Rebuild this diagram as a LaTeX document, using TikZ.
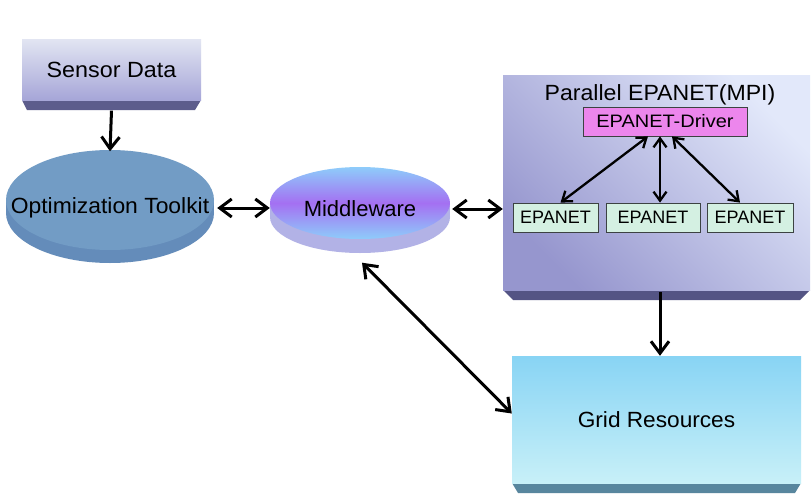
\documentclass[tikz,border=0pt]{standalone}
\usepackage{fontspec}
\setmainfont{Liberation Sans}
\usetikzlibrary{arrows.meta,calc,shapes.geometric}
\definecolor{sTop}{RGB}{226,229,242}
\definecolor{sBot}{RGB}{166,166,216}
\definecolor{sBevel}{RGB}{92,92,140}
\definecolor{optTop}{RGB}{114,156,197}
\definecolor{optSide}{RGB}{100,140,186}
\definecolor{mwBlue}{RGB}{142,204,250}
\definecolor{mwPurple}{RGB}{164,112,242}
\definecolor{mwSide}{RGB}{178,178,230}
\definecolor{pLight}{RGB}{226,232,250}
\definecolor{pDark}{RGB}{150,150,206}
\definecolor{pBevel}{RGB}{84,84,132}
\definecolor{drvFill}{RGB}{236,134,236}
\definecolor{eFill}{RGB}{212,240,226}
\definecolor{boxLine}{RGB}{60,66,66}
\definecolor{gTop}{RGB}{136,212,244}
\definecolor{gBot}{RGB}{200,240,248}
\definecolor{gBevel}{RGB}{88,134,158}
\newcommand\wtext[2]{\scalebox{#1}[1]{#2}}
\begin{document}
\begin{tikzpicture}[x=1pt,y=-1pt,
  lbl/.style={font=\fontsize{22}{24}\selectfont, inner sep=0pt, text=black},
  conn/.style={line width=3pt, {Straight Barb[length=12pt,width=18pt]}-{Straight Barb[length=12pt,width=18pt]}},
  oneway/.style={line width=3pt, -{Straight Barb[length=12pt,width=18pt]}},
  sconn/.style={line width=2.3pt, {Straight Barb[length=9pt,width=13pt]}-{Straight Barb[length=9pt,width=13pt]}},
  ebox/.style={lbl, font=\fontsize{18}{20}\selectfont, draw=boxLine, line width=0.8pt, fill=eFill, minimum height=29pt}]
\useasboundingbox (0,0) rectangle (812,498);
\fill[white] (0,0) rectangle (812,498);

% Sensor Data
\fill[sBevel] (22,100) -- (201,100) -- (195,110) -- (27,110) -- cycle;
\shade[top color=sTop, bottom color=sBot] (22,39) rectangle (201,100);
\node[lbl, minimum width=179pt, minimum height=61pt] (sensor) at (111.5,70) {\wtext{1.06}{Sensor Data}};

% Optimization Toolkit
\fill[optSide] (110,213) ellipse [x radius=104, y radius=50];
\fill[optSide] (6,200) rectangle (214,213);
\fill[optTop] (110,200) ellipse [x radius=104, y radius=50];
\node[lbl, minimum width=208pt, minimum height=113pt] (opt) at (110,208) {\wtext{1.04}{Optimization Toolkit}};

% Middleware
\fill[mwSide] (360,217) ellipse [x radius=90, y radius=36];
\fill[mwSide] (270,203) rectangle (450,217);
\shade[top color=mwBlue, bottom color=mwBlue, middle color=mwPurple] (360,203) ellipse [x radius=90, y radius=36];
\node[lbl, minimum width=180pt, minimum height=87pt] (mw) at (360,209) {Middleware};

% Parallel EPANET
\fill[pBevel] (503,290) -- (810,290) -- (800,300) -- (513,300) -- cycle;
\shade[top color=pLight, bottom color=pDark, shading angle=-45] (503,75) rectangle (810,290);
\node[lbl, minimum width=307pt, minimum height=215pt] (par) at (656.5,182.5) {};
\node[lbl] (ptitle) at (660,95) {\wtext{1.05}{Parallel EPANET(MPI)}};
\node[lbl, font=\fontsize{18}{20}\selectfont, draw=boxLine, line width=0.8pt, fill=drvFill, minimum width=164pt, minimum height=29pt] (drv) at (665,121.5) {\wtext{1.11}{EPANET-Driver}};
\node[ebox, minimum width=85pt] (e1) at (555.5,217.5) {EPANET};
\node[ebox, minimum width=94pt] (e2) at (653,217.5) {EPANET};
\node[ebox, minimum width=86pt] (e3) at (750,217.5) {EPANET};

% Grid Resources
\fill[gBevel] (512,483) -- (801,483) -- (795,493) -- (518,493) -- cycle;
\shade[top color=gTop, bottom color=gBot] (512,356) rectangle (801,483);
\node[lbl, minimum width=289pt, minimum height=127pt] (grid) at (656.5,419.5) {\wtext{1.03}{Grid Resources}};

% connectors
\draw[oneway] ([yshift=-10pt]sensor.south) -- (opt.north);
\draw[conn, shorten <=3pt] (opt.east) -- (opt.east -| mw.west);
\draw[conn, shorten <=2pt] (mw.east) -- (mw.east -| par.west);
\draw[sconn] ([xshift=-17pt]drv.south) -- ([xshift=5pt]e1.north);
\draw[sconn] ([xshift=-5pt]drv.south) -- ([xshift=7pt]e2.north);
\draw[sconn] ([xshift=7pt]drv.south) -- ([xshift=-10pt]e3.north);
\draw[oneway] ([xshift=3.5pt,yshift=-2pt]par.south) -- ([xshift=3.5pt]grid.north);
\draw[conn] ([shift={(2pt,-10pt)}]mw.south) -- ([yshift=6pt]grid.west);
\end{tikzpicture}
\end{document}
